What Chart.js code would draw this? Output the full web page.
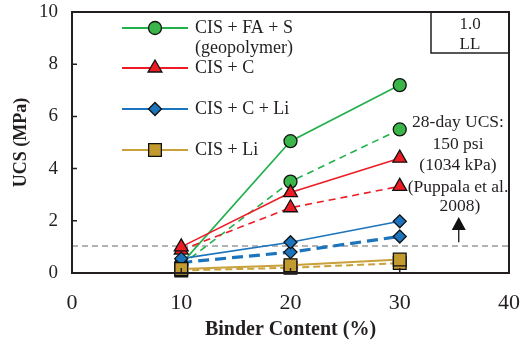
<!DOCTYPE html>
<html>
<head>
<meta charset="utf-8">
<script src="https://cdn.jsdelivr.net/npm/chart.js@4/dist/chart.umd.min.js"></script>
<style>
  html, body { margin: 0; padding: 0; background: #fff; }
  canvas { display: block; }
</style>
</head>
<body>
<canvas id="c" width="523" height="342"></canvas>
<script>
// Binder content (%) tested for every mix
const binderContent = [10, 20, 30];

// 7-day (solid) and 28-day (dashed) UCS in MPa
const geoSolid         = [0.35, 5.05, 7.20];
const geoDashed        = [0.30, 3.50, 5.50];
const cementSolid      = [1.00, 3.08, 4.40];
const cementDashed     = [0.88, 2.50, 3.32];
const cementLimeSolid  = [0.55, 1.18, 1.98];
const cementLimeDashed = [0.40, 0.80, 1.40];
const limeSolid        = [0.15, 0.30, 0.52];
const limeDashed       = [0.10, 0.20, 0.38];

// Design requirement: 150 psi = 1034 kPa
const targetUcs = 1.034;

const xTicks = [0, 10, 20, 30, 40];
const yTicks = [0, 2, 4, 6, 8, 10];

const legendLabels = [['CIS + FA + S', '(geopolymer)'], ['CIS + C'], ['CIS + C + Li'], ['CIS + Li']];
const boxLabel = ['1.0', 'LL'];
const noteLines = ['28-day UCS:', '150 psi', '(1034 kPa)', '(Puppala et al.', '2008)'];

const SERIF = '"Liberation Serif", "Times New Roman", serif';
const INK = '#231f20';

const GREEN = '#22b04b', GREEN_FILL = '#3ab54a';
const RED = '#ed1c24', RED_FILL = '#ed1c24';
const BLUE = '#1c75bc', BLUE_FILL = '#1c75bc';
const GOLD = '#c9a13a', GOLD_FILL = '#c29a2f';

const pts = ys => binderContent.map((x, i) => ({ x, y: ys[i] }));

function mix(data, color, fill, style, radius, width, dash, order) {
  return {
    data: pts(data),
    borderColor: color,
    backgroundColor: fill,
    borderWidth: width,
    borderDash: dash,
    pointStyle: style,
    pointRadius: radius,
    pointBackgroundColor: fill,
    pointBorderColor: '#111',
    pointBorderWidth: 1.3,
    tension: 0,
    clip: false,
    order: order
  };
}

const datasets = [
  mix(limeSolid,        GOLD,  GOLD_FILL,  'rect',     9,   2,   [],      0),
  mix(limeDashed,       GOLD,  GOLD_FILL,  'rect',     9,   2,   [7, 4],  1),
  mix(cementLimeSolid,  BLUE,  BLUE_FILL,  'rectRot',  6.5, 1.6, [],      2),
  mix(cementLimeDashed, BLUE,  BLUE_FILL,  'rectRot',  6.5, 3.2, [11, 6], 3),
  mix(cementSolid,      RED,   RED_FILL,   'triangle', 8,   1.6, [],      4),
  mix(cementDashed,     RED,   RED_FILL,   'triangle', 8,   1.6, [7, 5],  5),
  mix(geoSolid,         GREEN, GREEN_FILL, 'circle',   6.5, 1.6, [],      6),
  mix(geoDashed,        GREEN, GREEN_FILL, 'circle',   6.5, 1.6, [7, 5],  7),
  {
    data: [{ x: xTicks[0], y: targetUcs }, { x: xTicks[xTicks.length - 1], y: targetUcs }],
    borderColor: '#9a9a9a',
    borderWidth: 1.6,
    borderDash: [6, 4],
    pointRadius: 0,
    order: 8
  }
];

// Legend rows share the solid-line style of each mix
const legendStyles = [datasets[6], datasets[4], datasets[2], datasets[0]];

const frame = {
  id: 'frame',
  afterDraw(chart) {
    const { ctx, chartArea: a, scales: { x, y } } = chart;
    ctx.save();

    // inward tick marks
    ctx.strokeStyle = INK;
    ctx.lineWidth = 1.5;
    ctx.beginPath();
    yTicks.forEach(v => { const py = y.getPixelForValue(v); ctx.moveTo(a.left, py); ctx.lineTo(a.left + 5, py); });
    xTicks.forEach(v => { const px = x.getPixelForValue(v); ctx.moveTo(px, a.bottom); ctx.lineTo(px, a.bottom - 5); });
    ctx.stroke();

    // plot border
    ctx.lineWidth = 2;
    ctx.strokeRect(a.left, a.top, a.right - a.left, a.bottom - a.top);

    // LL box in the corner
    const bx = a.right - 78;
    ctx.lineWidth = 1.5;
    ctx.strokeRect(bx, a.top, 78, 41);
    ctx.fillStyle = INK;
    ctx.font = '17px ' + SERIF;
    ctx.textAlign = 'center';
    ctx.textBaseline = 'middle';
    ctx.fillText(boxLabel[0], bx + 39, a.top + 13);
    ctx.fillText(boxLabel[1], bx + 39, a.top + 33);

    // legend
    const rows = [28, 68, 109, 150];
    ctx.font = '18px ' + SERIF;
    ctx.textAlign = 'left';
    legendStyles.forEach((ds, i) => {
      const ry = rows[i];
      ctx.strokeStyle = ds.borderColor;
      ctx.lineWidth = 2;
      ctx.setLineDash([]);
      ctx.beginPath();
      ctx.moveTo(122, ry);
      ctx.lineTo(188, ry);
      ctx.stroke();
      ctx.fillStyle = ds.pointBackgroundColor;
      ctx.strokeStyle = ds.pointBorderColor;
      ctx.lineWidth = ds.pointBorderWidth;
      Chart.helpers.drawPoint(ctx, { pointStyle: ds.pointStyle, radius: ds.pointRadius, borderWidth: ds.pointBorderWidth, rotation: 0 }, 155, ry);
      ctx.fillStyle = INK;
      legendLabels[i].forEach((t, k) => ctx.fillText(t, 195, ry + k * 20));
    });

    // requirement note and arrow
    ctx.font = '17.5px ' + SERIF;
    ctx.textAlign = 'center';
    const noteY = [122, 144, 165, 187, 206];
    noteLines.forEach((t, k) => ctx.fillText(t, k === 4 ? 460 : 458, noteY[k]));

    const ax = x.getPixelForValue(35.4);
    const yTop = y.getPixelForValue(2.15);
    const yBot = y.getPixelForValue(1.18);
    ctx.strokeStyle = '#111';
    ctx.fillStyle = '#111';
    ctx.lineWidth = 1.3;
    ctx.beginPath();
    ctx.moveTo(ax, yBot);
    ctx.lineTo(ax, yTop + 10);
    ctx.stroke();
    ctx.beginPath();
    ctx.moveTo(ax, yTop);
    ctx.lineTo(ax - 7, yTop + 13);
    ctx.lineTo(ax + 7, yTop + 13);
    ctx.closePath();
    ctx.fill();

    ctx.restore();
  }
};

new Chart(document.getElementById('c'), {
  type: 'line',
  data: { datasets },
  options: {
    responsive: false,
    animation: false,
    events: [],
    layout: { padding: { top: 0, right: 0, left: 0, bottom: 0 } },
    plugins: { legend: { display: false }, tooltip: { enabled: false } },
    scales: {
      x: {
        type: 'linear',
        min: xTicks[0],
        max: xTicks[xTicks.length - 1],
        afterBuildTicks: s => { s.ticks = xTicks.map(v => ({ value: v })); },
        afterFit: s => { s.height = 69; s.paddingRight = 14; },
        grid: { display: false, drawTicks: false },
        border: { display: false },
        ticks: { padding: 17, color: INK, font: { family: SERIF, size: 22 } },
        title: {
          display: true,
          text: 'Binder Content (%)',
          color: INK,
          font: { family: SERIF, size: 20, weight: 'bold' },
          padding: { top: 0, bottom: 0 }
        }
      },
      y: {
        type: 'linear',
        min: yTicks[0],
        max: yTicks[yTicks.length - 1],
        afterBuildTicks: s => { s.ticks = yTicks.map(v => ({ value: v })); },
        afterFit: s => { s.width = 72; s.paddingTop = 12; },
        grid: { display: false, drawTicks: false },
        border: { display: false },
        ticks: { padding: 14, color: INK, font: { family: SERIF, size: 19 } },
        title: {
          display: true,
          text: 'UCS (MPa)',
          color: INK,
          font: { family: SERIF, size: 18, weight: 'bold' },
          padding: { top: 11, bottom: 0 }
        }
      }
    }
  },
  plugins: [frame]
});
</script>
</body>
</html>
